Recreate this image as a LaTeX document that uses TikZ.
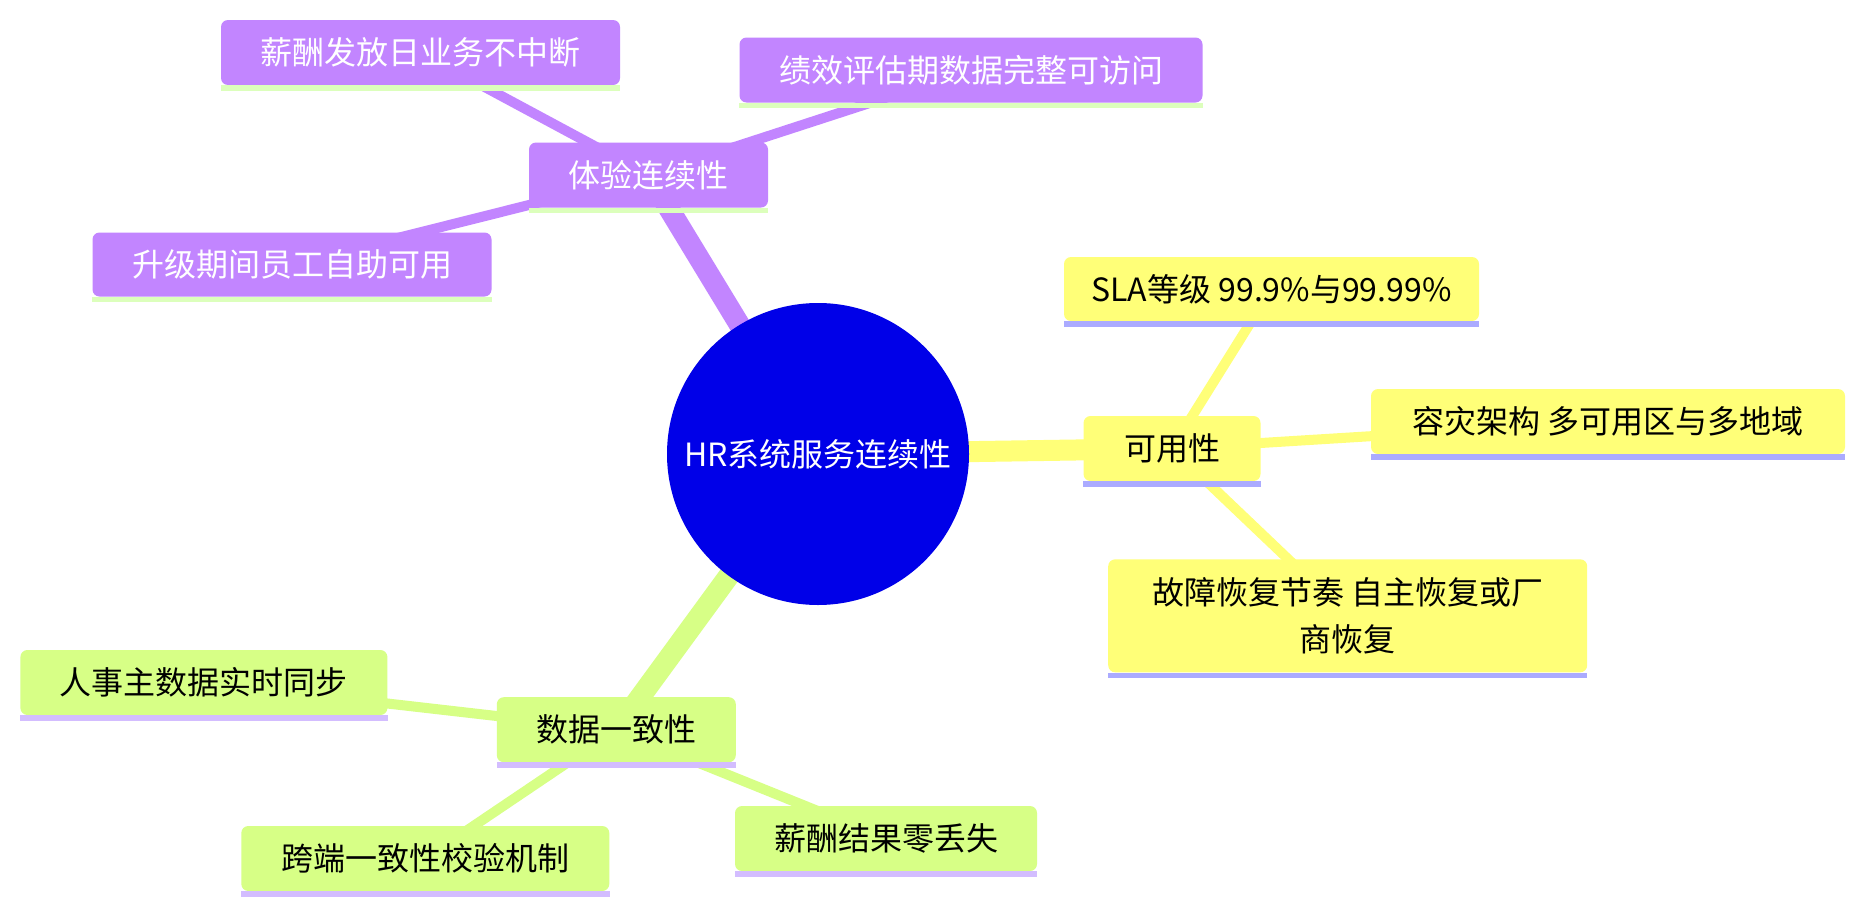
\documentclass[tikz,border=0pt]{standalone}
\usepackage{fontspec}
\setmainfont{Noto Sans CJK SC}
\usetikzlibrary{backgrounds}
\definecolor{rootblue}{HTML}{0000E8}
\definecolor{purp}{HTML}{C285FF}
\definecolor{yell}{HTML}{FFFF78}
\definecolor{gren}{HTML}{D7FF86}
\definecolor{purpstrip}{HTML}{DCFFBC}
\definecolor{yellstrip}{HTML}{ABABFF}
\definecolor{grenstrip}{HTML}{D3BDFF}
\tikzset{
  box/.style={rectangle, rounded corners=7pt, inner sep=0pt, font=\fontsize{32}{47}\selectfont, align=center},
  pbox/.style={box, fill=purp, text=white},
  ybox/.style={box, fill=yell, text=black},
  gbox/.style={box, fill=gren, text=black},
  rootnode/.style={circle, fill=rootblue, text=white, inner sep=0pt, minimum size=302pt, font=\fontsize{32}{40}\selectfont},
  thickedge/.style={line width=21pt},
  thinedge/.style={line width=10pt},
}
\begin{document}
\begin{tikzpicture}[x=1pt,y=-1pt]
\useasboundingbox (0,0) rectangle (1864,913);
% root
\node[rootnode] (root) at (818,454) {HR系统服务连续性};
% purple branch
\node[pbox, minimum width=239pt, minimum height=65pt] (pc) at (648.5,175) {体验连续性};
\node[pbox, minimum width=399pt, minimum height=65pt] (p1) at (420.5,52.5) {薪酬发放日业务不中断};
\node[pbox, minimum width=463pt, minimum height=65pt] (p2) at (971,70) {绩效评估期数据完整可访问};
\node[pbox, minimum width=399pt, minimum height=64pt] (p3) at (292,264.5) {升级期间员工自助可用};
% yellow branch
\node[ybox, minimum width=177pt, minimum height=65pt] (yc) at (1172,448.5) {可用性};
\node[ybox, minimum width=415pt, minimum height=64pt] (y1) at (1271.5,289) {SLA等级 99.9\%与99.99\%};
\node[ybox, minimum width=474pt, minimum height=65pt] (y2) at (1608,421.5) {容灾架构 多可用区与多地域};
\node[ybox, minimum width=479pt, minimum height=113pt] (y3) at (1347.7,615.8) {故障恢复节奏 自主恢复或厂\\商恢复};
% green branch
\node[gbox, minimum width=239pt, minimum height=65pt] (gc) at (616.3,729.7) {数据一致性};
\node[gbox, minimum width=367pt, minimum height=65pt] (g1) at (203.9,682.5) {人事主数据实时同步};
\node[gbox, minimum width=368pt, minimum height=65pt] (g2) at (425.3,858.5) {跨端一致性校验机制};
\node[gbox, minimum width=302pt, minimum height=65pt] (g3) at (886,838.5) {薪酬结果零丢失};
% bottom strips
\foreach \n in {pc,p1,p2,p3} \fill[purpstrip] (\n.south west) rectangle ([yshift=-5.5pt]\n.south east);
\foreach \n in {yc,y1,y2,y3} \fill[yellstrip] (\n.south west) rectangle ([yshift=-5.5pt]\n.south east);
\foreach \n in {gc,g1,g2,g3} \fill[grenstrip] (\n.south west) rectangle ([yshift=-5.5pt]\n.south east);
% edges
\begin{scope}[on background layer]
  \fill[white] (0,0) rectangle (1864,913);
  \draw[thickedge, purp] (root.center) -- (pc.center);
  \draw[thinedge, purp] (pc.center) -- (p1.center);
  \draw[thinedge, purp] (pc.center) -- (p2.center);
  \draw[thinedge, purp] (pc.center) -- (p3.center);
  \draw[thickedge, yell] (root.center) -- (yc.center);
  \draw[thinedge, yell] (yc.center) -- (y1.center);
  \draw[thinedge, yell] (yc.center) -- (y2.center);
  \draw[thinedge, yell] (yc.center) -- (y3.center);
  \draw[thickedge, gren] (root.center) -- (gc.center);
  \draw[thinedge, gren] (gc.center) -- (g1.center);
  \draw[thinedge, gren] (gc.center) -- (g2.center);
  \draw[thinedge, gren] (gc.center) -- (g3.center);
\end{scope}
\end{tikzpicture}
\end{document}
